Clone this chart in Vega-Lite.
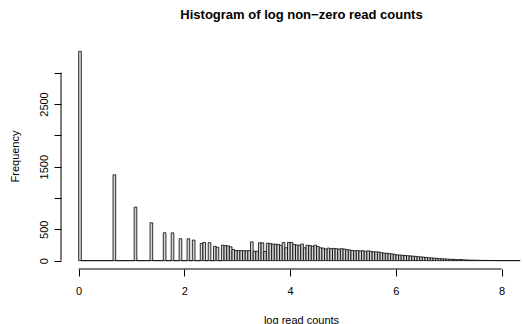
{
  "$schema": "https://vega.github.io/schema/vega-lite/v6.json",
  "width": 463,
  "height": 226,
  "autosize": "none",
  "padding": {"left": 61, "top": 43, "right": 0, "bottom": 55},
  "background": "white",
  "config": {"view": {"stroke": null}},
  "title": {
    "text": "Histogram of log non\u2212zero read counts",
    "font": "Liberation Sans",
    "fontSize": 13,
    "fontWeight": "bold",
    "color": "black",
    "anchor": "middle",
    "baseline": "alphabetic",
    "offset": 11,
    "dx": 9
  },
  "resolve": {"axis": {"x": "independent", "y": "independent"}},
  "data": {
    "values": [
      {"lo": 0.00, "hi": 0.05, "n": 3340},
      {"lo": 0.05, "hi": 0.10, "n": 0},
      {"lo": 0.10, "hi": 0.15, "n": 0},
      {"lo": 0.15, "hi": 0.20, "n": 0},
      {"lo": 0.20, "hi": 0.25, "n": 0},
      {"lo": 0.25, "hi": 0.30, "n": 0},
      {"lo": 0.30, "hi": 0.35, "n": 0},
      {"lo": 0.35, "hi": 0.40, "n": 0},
      {"lo": 0.40, "hi": 0.45, "n": 0},
      {"lo": 0.45, "hi": 0.50, "n": 0},
      {"lo": 0.50, "hi": 0.55, "n": 0},
      {"lo": 0.55, "hi": 0.60, "n": 0},
      {"lo": 0.60, "hi": 0.65, "n": 0},
      {"lo": 0.65, "hi": 0.70, "n": 1370},
      {"lo": 0.70, "hi": 0.75, "n": 0},
      {"lo": 0.75, "hi": 0.80, "n": 0},
      {"lo": 0.80, "hi": 0.85, "n": 0},
      {"lo": 0.85, "hi": 0.90, "n": 0},
      {"lo": 0.90, "hi": 0.95, "n": 0},
      {"lo": 0.95, "hi": 1.00, "n": 0},
      {"lo": 1.00, "hi": 1.05, "n": 0},
      {"lo": 1.05, "hi": 1.10, "n": 853},
      {"lo": 1.10, "hi": 1.15, "n": 0},
      {"lo": 1.15, "hi": 1.20, "n": 0},
      {"lo": 1.20, "hi": 1.25, "n": 0},
      {"lo": 1.25, "hi": 1.30, "n": 0},
      {"lo": 1.30, "hi": 1.35, "n": 0},
      {"lo": 1.35, "hi": 1.40, "n": 604},
      {"lo": 1.40, "hi": 1.45, "n": 0},
      {"lo": 1.45, "hi": 1.50, "n": 0},
      {"lo": 1.50, "hi": 1.55, "n": 0},
      {"lo": 1.55, "hi": 1.60, "n": 0},
      {"lo": 1.60, "hi": 1.65, "n": 445},
      {"lo": 1.65, "hi": 1.70, "n": 0},
      {"lo": 1.70, "hi": 1.75, "n": 0},
      {"lo": 1.75, "hi": 1.80, "n": 443},
      {"lo": 1.80, "hi": 1.85, "n": 0},
      {"lo": 1.85, "hi": 1.90, "n": 0},
      {"lo": 1.90, "hi": 1.95, "n": 350},
      {"lo": 1.95, "hi": 2.00, "n": 0},
      {"lo": 2.00, "hi": 2.05, "n": 0},
      {"lo": 2.05, "hi": 2.10, "n": 348},
      {"lo": 2.10, "hi": 2.15, "n": 0},
      {"lo": 2.15, "hi": 2.20, "n": 328},
      {"lo": 2.20, "hi": 2.25, "n": 0},
      {"lo": 2.25, "hi": 2.30, "n": 0},
      {"lo": 2.30, "hi": 2.35, "n": 275},
      {"lo": 2.35, "hi": 2.40, "n": 290},
      {"lo": 2.40, "hi": 2.45, "n": 0},
      {"lo": 2.45, "hi": 2.50, "n": 286},
      {"lo": 2.50, "hi": 2.55, "n": 0},
      {"lo": 2.55, "hi": 2.60, "n": 228},
      {"lo": 2.60, "hi": 2.65, "n": 213},
      {"lo": 2.65, "hi": 2.70, "n": 0},
      {"lo": 2.70, "hi": 2.75, "n": 245},
      {"lo": 2.75, "hi": 2.80, "n": 240},
      {"lo": 2.80, "hi": 2.85, "n": 235},
      {"lo": 2.85, "hi": 2.90, "n": 220},
      {"lo": 2.90, "hi": 2.95, "n": 176},
      {"lo": 2.95, "hi": 3.00, "n": 162},
      {"lo": 3.00, "hi": 3.05, "n": 160},
      {"lo": 3.05, "hi": 3.10, "n": 158},
      {"lo": 3.10, "hi": 3.15, "n": 160},
      {"lo": 3.15, "hi": 3.20, "n": 157},
      {"lo": 3.20, "hi": 3.25, "n": 160},
      {"lo": 3.25, "hi": 3.30, "n": 299},
      {"lo": 3.30, "hi": 3.35, "n": 150},
      {"lo": 3.35, "hi": 3.40, "n": 150},
      {"lo": 3.40, "hi": 3.45, "n": 285},
      {"lo": 3.45, "hi": 3.50, "n": 284},
      {"lo": 3.50, "hi": 3.55, "n": 145},
      {"lo": 3.55, "hi": 3.60, "n": 278},
      {"lo": 3.60, "hi": 3.65, "n": 272},
      {"lo": 3.65, "hi": 3.70, "n": 262},
      {"lo": 3.70, "hi": 3.75, "n": 263},
      {"lo": 3.75, "hi": 3.80, "n": 258},
      {"lo": 3.80, "hi": 3.85, "n": 245},
      {"lo": 3.85, "hi": 3.90, "n": 290},
      {"lo": 3.90, "hi": 3.95, "n": 205},
      {"lo": 3.95, "hi": 4.00, "n": 292},
      {"lo": 4.00, "hi": 4.05, "n": 290},
      {"lo": 4.05, "hi": 4.10, "n": 260},
      {"lo": 4.10, "hi": 4.15, "n": 250},
      {"lo": 4.15, "hi": 4.20, "n": 245},
      {"lo": 4.20, "hi": 4.25, "n": 265},
      {"lo": 4.25, "hi": 4.30, "n": 205},
      {"lo": 4.30, "hi": 4.35, "n": 245},
      {"lo": 4.35, "hi": 4.40, "n": 240},
      {"lo": 4.40, "hi": 4.45, "n": 230},
      {"lo": 4.45, "hi": 4.50, "n": 245},
      {"lo": 4.50, "hi": 4.55, "n": 225},
      {"lo": 4.55, "hi": 4.60, "n": 205},
      {"lo": 4.60, "hi": 4.65, "n": 200},
      {"lo": 4.65, "hi": 4.70, "n": 185},
      {"lo": 4.70, "hi": 4.75, "n": 200},
      {"lo": 4.75, "hi": 4.80, "n": 190},
      {"lo": 4.80, "hi": 4.85, "n": 195},
      {"lo": 4.85, "hi": 4.90, "n": 190},
      {"lo": 4.90, "hi": 4.95, "n": 185},
      {"lo": 4.95, "hi": 5.00, "n": 190},
      {"lo": 5.00, "hi": 5.05, "n": 185},
      {"lo": 5.05, "hi": 5.10, "n": 175},
      {"lo": 5.10, "hi": 5.15, "n": 170},
      {"lo": 5.15, "hi": 5.20, "n": 162},
      {"lo": 5.20, "hi": 5.25, "n": 158},
      {"lo": 5.25, "hi": 5.30, "n": 160},
      {"lo": 5.30, "hi": 5.35, "n": 155},
      {"lo": 5.35, "hi": 5.40, "n": 158},
      {"lo": 5.40, "hi": 5.45, "n": 150},
      {"lo": 5.45, "hi": 5.50, "n": 155},
      {"lo": 5.50, "hi": 5.55, "n": 148},
      {"lo": 5.55, "hi": 5.60, "n": 142},
      {"lo": 5.60, "hi": 5.65, "n": 140},
      {"lo": 5.65, "hi": 5.70, "n": 138},
      {"lo": 5.70, "hi": 5.75, "n": 128},
      {"lo": 5.75, "hi": 5.80, "n": 120},
      {"lo": 5.80, "hi": 5.85, "n": 118},
      {"lo": 5.85, "hi": 5.90, "n": 112},
      {"lo": 5.90, "hi": 5.95, "n": 108},
      {"lo": 5.95, "hi": 6.00, "n": 100},
      {"lo": 6.00, "hi": 6.05, "n": 92},
      {"lo": 6.05, "hi": 6.10, "n": 90},
      {"lo": 6.10, "hi": 6.15, "n": 85},
      {"lo": 6.15, "hi": 6.20, "n": 82},
      {"lo": 6.20, "hi": 6.25, "n": 78},
      {"lo": 6.25, "hi": 6.30, "n": 75},
      {"lo": 6.30, "hi": 6.35, "n": 72},
      {"lo": 6.35, "hi": 6.40, "n": 68},
      {"lo": 6.40, "hi": 6.45, "n": 62},
      {"lo": 6.45, "hi": 6.50, "n": 60},
      {"lo": 6.50, "hi": 6.55, "n": 55},
      {"lo": 6.55, "hi": 6.60, "n": 50},
      {"lo": 6.60, "hi": 6.65, "n": 46},
      {"lo": 6.65, "hi": 6.70, "n": 43},
      {"lo": 6.70, "hi": 6.75, "n": 40},
      {"lo": 6.75, "hi": 6.80, "n": 36},
      {"lo": 6.80, "hi": 6.85, "n": 33},
      {"lo": 6.85, "hi": 6.90, "n": 30},
      {"lo": 6.90, "hi": 6.95, "n": 28},
      {"lo": 6.95, "hi": 7.00, "n": 25},
      {"lo": 7.00, "hi": 7.05, "n": 22},
      {"lo": 7.05, "hi": 7.10, "n": 20},
      {"lo": 7.10, "hi": 7.15, "n": 18},
      {"lo": 7.15, "hi": 7.20, "n": 16},
      {"lo": 7.20, "hi": 7.25, "n": 18},
      {"lo": 7.25, "hi": 7.30, "n": 13},
      {"lo": 7.30, "hi": 7.35, "n": 11},
      {"lo": 7.35, "hi": 7.40, "n": 9},
      {"lo": 7.40, "hi": 7.45, "n": 8},
      {"lo": 7.45, "hi": 7.50, "n": 7},
      {"lo": 7.50, "hi": 7.55, "n": 6},
      {"lo": 7.55, "hi": 7.60, "n": 5},
      {"lo": 7.60, "hi": 7.65, "n": 4},
      {"lo": 7.65, "hi": 7.70, "n": 4},
      {"lo": 7.70, "hi": 7.75, "n": 3},
      {"lo": 7.75, "hi": 7.80, "n": 3},
      {"lo": 7.80, "hi": 7.85, "n": 2},
      {"lo": 7.85, "hi": 7.90, "n": 2},
      {"lo": 7.90, "hi": 7.95, "n": 1},
      {"lo": 7.95, "hi": 8.00, "n": 1},
      {"lo": 8.00, "hi": 8.05, "n": 1},
      {"lo": 8.05, "hi": 8.10, "n": 0},
      {"lo": 8.10, "hi": 8.15, "n": 1},
      {"lo": 8.15, "hi": 8.20, "n": 0},
      {"lo": 8.20, "hi": 8.25, "n": 0},
      {"lo": 8.25, "hi": 8.30, "n": 0},
      {"lo": 8.30, "hi": 8.35, "n": 1}
    ]
  },
  "layer": [
    {
      "mark": {"type": "rect", "fill": "#d3d3d3", "stroke": "black", "strokeWidth": 0.8},
      "encoding": {
        "x": {
          "field": "lo",
          "type": "quantitative",
          "scale": {"domain": [-0.334, 8.422], "nice": false, "zero": false},
          "axis": {
            "values": [0, 2, 4, 6, 8],
            "domain": false,
            "grid": false,
            "ticks": true,
            "tickSize": 7,
            "tickColor": "black",
            "tickWidth": 1,
            "labelColor": "black",
            "labelFont": "Liberation Sans",
            "labelFontSize": 11,
            "labelPadding": 9,
            "labelBaseline": "top",
            "labelOverlap": false,
            "title": "log read counts",
            "titleFont": "Liberation Sans",
            "titleFontSize": 11,
            "titleFontWeight": "normal",
            "titleColor": "black",
            "titleX": 240,
            "titleY": 51,
            "titleBaseline": "middle"
          }
        },
        "x2": {"field": "hi"},
        "y": {
          "field": "n",
          "type": "quantitative",
          "scale": {"domain": [-133.6, 3473.6], "nice": false, "zero": false},
          "axis": {
            "values": [0, 500, 1000, 1500, 2000, 2500, 3000],
            "labelExpr": "(datum.value == 1000 || datum.value == 2000 || datum.value == 3000) ? '' : format(datum.value, 'd')",
            "labelOverlap": false,
            "domain": false,
            "grid": false,
            "tickSize": 7,
            "tickColor": "black",
            "tickWidth": 1,
            "labelAngle": 270,
            "labelAlign": "center",
            "labelBaseline": "bottom",
            "labelPadding": 5,
            "labelColor": "black",
            "labelFont": "Liberation Sans",
            "labelFontSize": 11,
            "title": "Frequency",
            "titleFont": "Liberation Sans",
            "titleFontSize": 11,
            "titleFontWeight": "normal",
            "titleColor": "black",
            "titleAngle": 270,
            "titleAlign": "center",
            "titleBaseline": "alphabetic",
            "titleX": -43
          }
        },
        "y2": {"datum": 0}
      }
    },
    {
      "data": {"values": [{}]},
      "mark": {"type": "rule", "color": "black", "strokeWidth": 1},
      "encoding": {
        "x": {"datum": 0, "type": "quantitative", "axis": null},
        "x2": {"datum": 8},
        "y": {"datum": -133.6, "type": "quantitative", "axis": null}
      }
    },
    {
      "data": {"values": [{}]},
      "mark": {"type": "rule", "color": "black", "strokeWidth": 1},
      "encoding": {
        "y": {"datum": 0, "type": "quantitative", "axis": null},
        "y2": {"datum": 3000},
        "x": {"datum": -0.334, "type": "quantitative", "axis": null}
      }
    }
  ]
}
